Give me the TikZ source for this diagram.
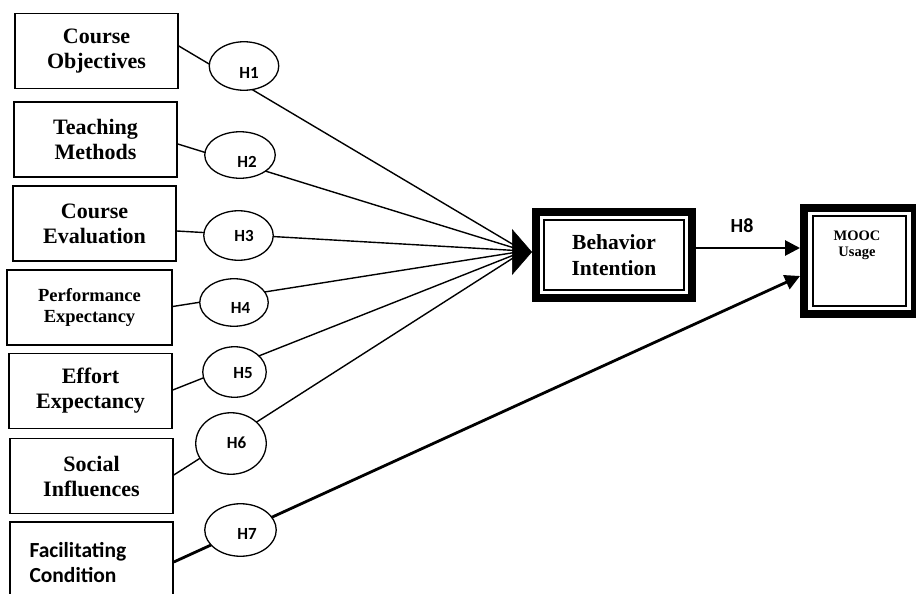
\documentclass[tikz,border=0pt]{standalone}
\usepackage{fontspec}
\setmainfont{Liberation Serif}
\newfontfamily\calib{Carlito}
\usetikzlibrary{arrows.meta,calc,shapes.geometric}

\tikzset{
  factor/.style={draw, line width=1.6pt, minimum width=163pt, minimum height=75pt,
    inner sep=0pt, align=center, font=\bfseries\fontsize{22}{25}\selectfont},
  hyp/.style 2 args={draw, ellipse, fill=white, line width=1.3pt, inner sep=0pt,
    minimum width=#1pt, minimum height=#2pt},
  htext/.style={inner sep=0pt, font=\calib\bfseries\fontsize{17}{20}\selectfont},
  link/.style={line width=1.4pt},
  strong/.style={line width=2.8pt},
  outcome/.style={draw, line width=8pt, inner sep=0pt},
  innerframe/.style={line width=2pt},
}

\begin{document}
\begin{tikzpicture}[x=1pt,y=-1pt]
\useasboundingbox[fill=white] (0,0) rectangle (916,594);

% antecedent constructs
\node[factor] (CO) at (96.5,51) {Course\\Objectives};
\node[factor] (TM) at (95.5,139.5) {Teaching\\Methods};
\node[factor] (CE) at (94.5,223.5) {Course\\Evaluation};
\node[factor, minimum width=165pt, font=\bfseries\fontsize{18.5}{21}\selectfont] (PE) at (89.5,307.5) {Performance\\Expectancy};
\node[factor] (EE) at (90.5,391) {Effort\\Expectancy};
\node[factor] (SI) at (91.5,476) {Social\\Influences};
\node[factor, minimum height=82pt, text width=124pt, align=left,
      font=\calib\bfseries\fontsize{21.5}{25}\selectfont] (FC) at (91.5,563) {Facilitating\\Condition};

% outcome constructs
\node[outcome, minimum width=156pt, minimum height=86pt,
      font=\bfseries\fontsize{21.5}{26}\selectfont, align=center] (BI) at (614,255) {Behavior\\Intention};
\node[outcome, minimum width=110.5pt, minimum height=106pt] (MOOC) at (859.25,261) {};
\node[inner sep=0pt, align=center, font=\bfseries\fontsize{14.5}{16}\selectfont] (MOOCt) at (857,245) {MOOC\\Usage};
\draw[innerframe] ($(BI.north west)+(11.7,11.7)$) rectangle ($(BI.south east)+(-11.7,-11.7)$);
\draw[innerframe] ($(MOOC.north west)+(12.8,12.3)$) rectangle ($(MOOC.south east)+(-12.5,-12.5)$);

% paths into behaviour intention
\coordinate (conv) at (524,251);
\draw[link] ($(CO.east)+(0,-5)$) -- (conv);
\draw[link] ($(TM.east)+(0,4.5)$) -- (conv);
\draw[link] ($(CE.east)+(0,7.5)$) -- (conv);
\draw[link] ($(PE.east)+(0,-1)$) -- (conv);
\draw[link] ($(EE.east)+(0,-1)$) -- (conv);
\draw[link] ($(SI.east)+(0,-1)$) -- (conv);
\coordinate (tail) at (512,252);
\draw[line width=0.5pt, -{Triangle[length=20pt,width=46pt]}] (tail) -- (tail -| BI.west);

% paths into MOOC usage
\draw[strong, -{Triangle[length=15pt,width=15pt]}] ($(BI.east)+(0,-7)$) -- ($(MOOC.west)+(0,-13)$);
\draw[strong, -{Triangle[length=15pt,width=15pt]}] ($(FC.east)+(0,-1)$) -- ($(MOOC.west)+(0,15)$);
\node[inner sep=0pt, font=\calib\bfseries\fontsize{20}{24}\selectfont] (H8) at (742,226) {H8};

% hypothesis markers
\node[hyp={69.5}{48.5}] (H1) at (244,66) {};
\node[hyp={70.5}{46.5}] (H2) at (240,155) {};
\node[hyp={69.5}{49.5}] (H3) at (238.5,235.5) {};
\node[hyp={68.5}{47.5}] (H4) at (234,302.5) {};
\node[hyp={63.5}{50.5}] (H5) at (234.5,372) {};
\node[hyp={70.5}{61.5}] (H6) at (231,443.5) {};
\node[hyp={71.5}{52.5}] (H7) at (240.5,530) {};
\node[htext] (H1t) at (249,73) {H1};
\node[htext] (H2t) at (247,162) {H2};
\node[htext] (H3t) at (244,236) {H3};
\node[htext] (H4t) at (240.5,307.5) {H4};
\node[htext] (H5t) at (243,373) {H5};
\node[htext] (H6t) at (236.5,443) {H6};
\node[htext] (H7t) at (247,534) {H7};
\end{tikzpicture}
\end{document}
